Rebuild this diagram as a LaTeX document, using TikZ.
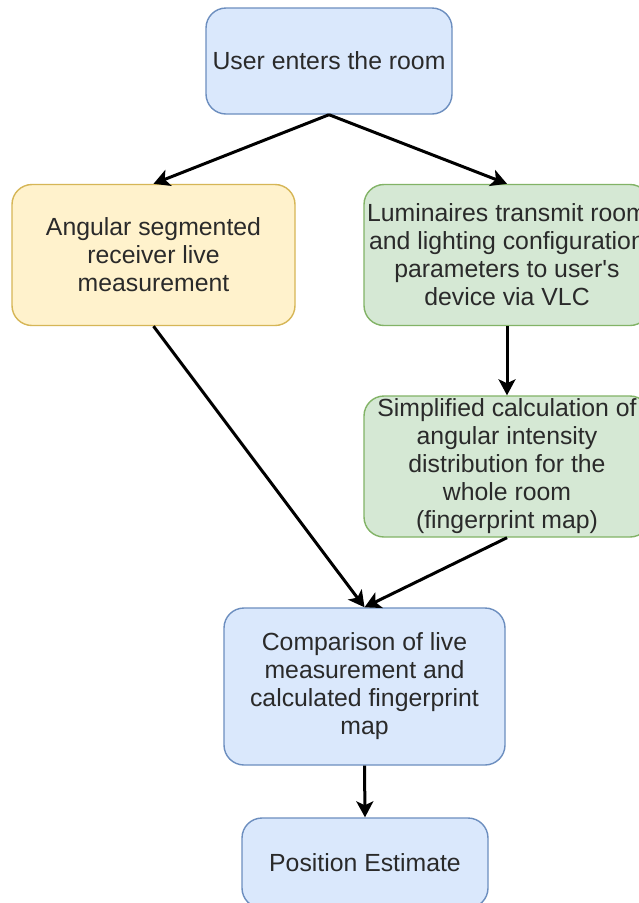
\documentclass[tikz,border=0pt]{standalone}
\usepackage{fontspec}
\newfontfamily\boxfont{Liberation Sans}
\usetikzlibrary{arrows.meta}
\definecolor{bluefill}{HTML}{DAE8FC}
\definecolor{bluedraw}{HTML}{6C8EBF}
\definecolor{yellowfill}{HTML}{FFF2CC}
\definecolor{yellowdraw}{HTML}{D6B656}
\definecolor{greenfill}{HTML}{D5E8D4}
\definecolor{greendraw}{HTML}{82B366}
\definecolor{txt}{HTML}{2A2A2A}
\tikzset{
  box/.style={rectangle, rounded corners=20pt, line width=1.4pt, align=center,
    inner sep=0pt, text=txt,
    font=\boxfont\fontsize{24.8pt}{28pt}\selectfont},
  bluebox/.style={box, fill=bluefill, draw=bluedraw},
  yellowbox/.style={box, fill=yellowfill, draw=yellowdraw},
  greenbox/.style={box, fill=greenfill, draw=greendraw},
  flow/.style={line width=3pt, -{Stealth[length=16pt,width=17pt,inset=4pt]}},
}
\begin{document}
\begin{tikzpicture}[x=1pt,y=-1pt]
  \useasboundingbox (0,0) rectangle (639,903);
  \clip (0,0) rectangle (639,903);
  \fill[white] (0,0) rectangle (639,903);

  \node[bluebox, minimum width=246pt, minimum height=106pt] (enter) at (329,61)
    {User enters the room};
  \node[yellowbox, minimum width=283pt, minimum height=141pt] (live) at (153.5,255)
    {Angular segmented\\receiver live\\measurement};
  \node[greenbox, minimum width=286pt, minimum height=141pt] (vlc) at (507,255)
    {Luminaires transmit room\\and lighting configuration\\parameters to user's\\device via VLC};
  \node[greenbox, minimum width=286pt, minimum height=141pt] (calc) at (507,466.5)
    {Simplified calculation of\\angular intensity\\distribution for the\\whole room\\(fingerprint map)};
  \node[bluebox, minimum width=281pt, minimum height=157pt] (comp) at (364.5,686.5)
    {Comparison of live\\measurement and\\calculated fingerprint\\map};
  \node[bluebox, minimum width=246pt, minimum height=90pt] (pos) at (365,863)
    {Position Estimate};

  \draw[flow] (enter.south) -- (live.north);
  \draw[flow] (enter.south) -- (vlc.north);
  \draw[flow] (vlc.south) -- (calc.north);
  \draw[flow] (live.south) -- (comp.north);
  \draw[flow] (calc.south) -- (comp.north);
  \draw[flow] (comp.south) -- (pos.north);
\end{tikzpicture}
\end{document}
